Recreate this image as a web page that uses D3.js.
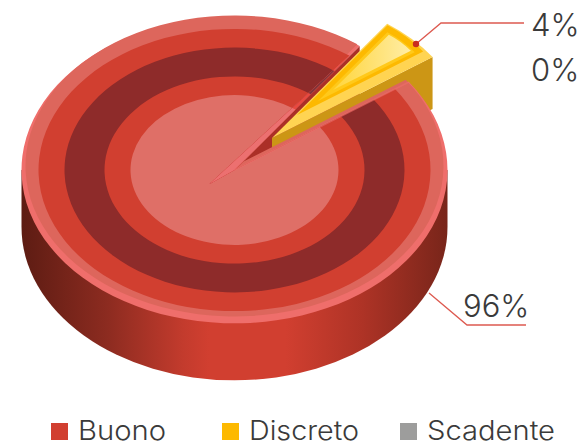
<!DOCTYPE html>
<html>
<head>
<meta charset="utf-8">
<script src="https://cdn.jsdelivr.net/npm/d3@7"></script>
<style>
html, body { margin: 0; padding: 0; background: #fff; overflow: hidden; }
text { font-family: Inter, "Open Sans", sans-serif; font-weight: 300; fill: #3a3a3a; }
</style>
</head>
<body>
<script>
var categories = ['Buono', 'Discreto', 'Scadente'];
var values = [96, 4, 0];
var valueLabels = ['96%', '4%', '0%'];
var colors = ['#d13f30', '#fdb900', '#9d9d9c'];

var w = 580;
var h = 444;
var cx = 234.5;
var cy = 170;
var k = 0.72; // tilt of the disc
var depth = 57;
var R = 213;
var rad = Math.PI / 180;

var svg = d3.select('body').append('svg')
    .attr('width', w)
    .attr('height', h);
var defs = svg.append('defs');

function gradient(id, x1, x2, stops) {
    var g = defs.append('linearGradient')
        .attr('id', id)
        .attr('x1', x1).attr('x2', x2)
        .attr('y1', 0).attr('y2', 0);
    stops.forEach(function (s) {
        g.append('stop').attr('offset', s[0]).attr('stop-color', s[1]);
    });
}
gradient('side', 0, 1, [
    ['0%', '#5d1c13'], ['20%', '#8c2b20'], ['38%', '#c33b2d'], ['44%', '#d13f30'],
    ['62%', '#d13f30'], ['80%', '#ae3326'], ['100%', '#78251a']
]);
gradient('glow', 0, 1, [['0%', '#ffd53a'], ['100%', '#ffeda6']]);

// slices start where the yellow one ends, clockwise. drawn a bit wider than 4% like the reference
var endDiscreto = 55 * rad;
var widen = 2.3 * rad;
var arcs = d3.pie().sort(null).value(function (d) { return d; })
    .startAngle(endDiscreto)
    .endAngle(endDiscreto + 2 * Math.PI)(values);
var buono = { startAngle: arcs[0].startAngle, endAngle: arcs[0].endAngle - 2 * widen };
var discreto = { startAngle: arcs[1].startAngle - 2 * widen, endAngle: arcs[1].endAngle };

function flat(x, y) {
    return 'translate(' + x + ',' + y + ') scale(1,' + k + ')';
}
function pt(x, y, r, a) {
    return [x + r * Math.sin(a), y - r * k * Math.cos(a)];
}
function sector(parent, x, y, r1, d, fill) {
    return parent.append('path')
        .attr('transform', flat(x, y))
        .attr('d', d3.arc().innerRadius(0).outerRadius(r1)(d))
        .attr('fill', fill);
}
var line = d3.line();

// side of the disc
var body = svg.append('g');
body.append('path')
    .attr('transform', flat(cx, cy + depth))
    .attr('d', d3.arc().innerRadius(0).outerRadius(R).startAngle(90 * rad).endAngle(270 * rad)())
    .attr('fill', 'url(#side)');
body.append('rect')
    .attr('x', cx - R).attr('y', cy)
    .attr('width', 2 * R).attr('height', depth)
    .attr('fill', 'url(#side)');

// inner wall of the cut
var rimL = pt(cx, cy, R, buono.endAngle - 2 * Math.PI);
svg.append('path')
    .attr('d', line([[cx, cy], rimL, [rimL[0], rimL[1] + depth], [cx, cy + depth]]) + 'Z')
    .attr('fill', '#ab2f27');

// exploded yellow slice
var yR = 196;
var yDepth = 52;
var yX = 272;
var yY = 138;
var yCorner = pt(yX, yY, yR, discreto.endAngle);
svg.append('path')
    .attr('d', line([[yX, yY], yCorner, [yCorner[0], yCorner[1] + yDepth], [yX, yY + yDepth]]) + 'Z')
    .attr('fill', '#cc9615');
var yellow = svg.append('g');
sector(yellow, yX, yY, yR, discreto, '#ffd452');
sector(yellow, 297, 115, 154, discreto, colors[1]);
sector(yellow, 318, 101, 118, discreto, '#ffc91a');
sector(yellow, 333, 90, 95, discreto, 'url(#glow)');

// top face, only the Buono slice
function rings(parent, shades) {
    sector(parent, cx, cy, R, buono, shades[0]);
    sector(parent, cx, cy - 4, 209, buono, shades[1]);
    sector(parent, cx, cy, 196, buono, shades[2]);
    sector(parent, cx, cy, 170, buono, shades[3]);
    sector(parent, cx, cy, 130, buono, shades[2]);
    sector(parent, cx, cy, 104, buono, shades[4]);
}
var face = svg.append('g');
rings(face, ['#ef6e6b', '#dd665c', colors[0], '#8e2b2a', '#df6f67']);

// pale streak along the edges of the cut, same rings in lighter shades
defs.append('clipPath').attr('id', 'streak')
    .append('path')
    .attr('d', line([[cx - 25, cy + 14], rimL, [cx, cy]]) + 'Z');
rings(face.append('g').attr('clip-path', 'url(#streak)'),
    ['#ef6e6b', '#ed6e6a', '#e8493f', '#823439', '#ec7070']);

var rimR = pt(cx, cy, R, buono.startAngle);
face.append('path')
    .attr('d', line([[cx, cy], rimR]))
    .attr('stroke', '#ef6e6b')
    .attr('stroke-width', 1.5)
    .attr('stroke-opacity', 0.6);

// leader lines
var leaderColor = '#dd5a50';
var leaderAt = d3.scaleOrdinal().domain(categories).range([
    [[429, 293], [467, 325], [526, 325]],
    [[416, 44], [441, 23], [524, 23]]
]);
['Buono', 'Discreto'].forEach(function (c) {
    svg.append('path')
        .attr('d', line(leaderAt(c)))
        .attr('fill', 'none')
        .attr('stroke', leaderColor)
        .attr('stroke-width', 1.3);
});
svg.append('circle')
    .attr('cx', leaderAt('Discreto')[0][0])
    .attr('cy', leaderAt('Discreto')[0][1])
    .attr('r', 3.2)
    .attr('fill', '#c92d1f');

// value labels
var labelAt = d3.scaleOrdinal().domain(categories).range([[463, 317], [531, 36], [531, 81]]);
svg.selectAll('.val')
    .data(categories)
    .enter().append('text')
    .attr('class', 'val')
    .attr('x', function (c) { return labelAt(c)[0]; })
    .attr('y', function (c) { return labelAt(c)[1]; })
    .attr('font-size', 31)
    .text(function (c, i) { return valueLabels[i]; });

// legend
var legendX = d3.scaleOrdinal().domain(categories).range([51, 222, 400]);
var legendTextW = d3.scaleOrdinal().domain(categories).range([88, 110, 128]);
var legend = svg.selectAll('.leg')
    .data(categories)
    .enter().append('g')
    .attr('class', 'leg')
    .attr('transform', function (c) { return 'translate(' + legendX(c) + ',423)'; });
legend.append('rect')
    .attr('width', 17).attr('height', 17)
    .attr('fill', function (c, i) { return colors[i]; });
legend.append('text')
    .attr('x', 27).attr('y', 17)
    .attr('font-size', 27)
    .attr('textLength', legendTextW)
    .attr('lengthAdjust', 'spacingAndGlyphs')
    .text(function (c) { return c; });
</script>
</body>
</html>
